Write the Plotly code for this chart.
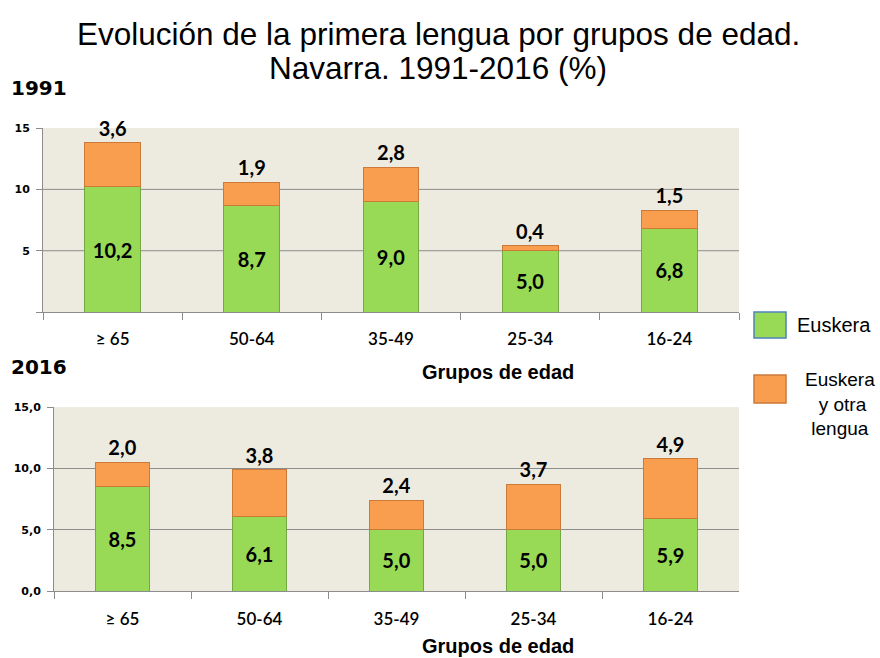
import plotly.graph_objects as go

# ---- data ----
categories = ["≥ 65", "50-64", "35-49", "25-34", "16-24"]
euskera_1991 = [10.2, 8.7, 9.0, 5.0, 6.8]
otra_1991 = [3.6, 1.9, 2.8, 0.4, 1.5]
euskera_2016 = [8.5, 6.1, 5.0, 5.0, 5.9]
otra_2016 = [2.0, 3.8, 2.4, 3.7, 4.9]
y_ticks = [0, 5, 10, 15]
top_grid = [5, 10]

title_lines = ["Evolución de la primera lengua por grupos de edad.",
               "Navarra. 1991-2016 (%)"]
axis_title = "Grupos de edad"
series_names = ["Euskera", "Euskera y otra lengua"]

W, H = 880, 658
def px(x):
    return x / W
def py(y):
    # vertical calibration measured from the rendered page
    return 1 - ((y - 6) / 0.98) / H

GREEN = "#98D955"
GREEN_LINE = "#74A842"
ORANGE = "#F99D4E"
ORANGE_LINE = "#CC7A3A"
BG = "#EDEAE0"
GRID = "#8C8C8C"

def fmt(v):
    return f"{v:.1f}".replace(".", ",")

label_font = dict(family="Lato", size=20, color="black", weight="bold")

fig = go.Figure()
for (eus, otra, xa, ya) in [(euskera_1991, otra_1991, "x", "y"),
                            (euskera_2016, otra_2016, "x2", "y2")]:
    fig.add_trace(go.Bar(
        x=categories, y=eus, name=series_names[0], xaxis=xa, yaxis=ya,
        marker=dict(color=GREEN, line=dict(color=GREEN_LINE, width=1)),
        width=0.4, text=[fmt(v) for v in eus], textposition="inside",
        insidetextanchor="middle", textfont=label_font, showlegend=False,
        textangle=0,
    ))
    fig.add_trace(go.Bar(
        x=categories, y=otra, name=series_names[1], xaxis=xa, yaxis=ya,
        marker=dict(color=ORANGE, line=dict(color=ORANGE_LINE, width=1)),
        width=0.4, text=[fmt(v) for v in otra], textposition="outside",
        textfont=label_font, showlegend=False, cliponaxis=False, textangle=0,
    ))

xcommon = dict(
    type="category", showline=True, linecolor=GRID, linewidth=1,
    ticks="outside", tickson="boundaries", ticklen=7, tickcolor=GRID,
    tickfont=dict(family="Lato", size=17, color="black", weight=600),
    ticklabelstandoff=12, showgrid=False, fixedrange=True,
)
ycommon = dict(
    range=[0, 15], showline=True, linecolor=GRID, linewidth=1,
    ticks="outside", ticklen=6, tickcolor=GRID,
    gridcolor=GRID, gridwidth=1, zeroline=False,
    tickfont=dict(family="DejaVu Sans", size=11, color="black", weight="bold"),
    tickvals=y_ticks, fixedrange=True, ticklabelstandoff=4,
)

fig.update_layout(
    width=W, height=H, margin=dict(l=0, r=0, t=0, b=0),
    paper_bgcolor="white", plot_bgcolor=BG,
    barmode="stack", separators=",.",
    showlegend=False,
    xaxis=dict(domain=[px(43), px(739)], anchor="y", **xcommon),
    yaxis=dict(domain=[py(312), py(128)], anchor="x", showgrid=False,
               ticktext=["", "5", "10", "15"], **ycommon),
    xaxis2=dict(domain=[px(54), px(739)], anchor="y2", **xcommon),
    yaxis2=dict(domain=[py(591), py(407)], anchor="x2", showgrid=True,
                ticktext=["0,0", "5,0", "10,0", "15,0"], **ycommon),
)

for g in top_grid:
    fig.add_shape(type="line", xref="x domain", yref="y", x0=0, x1=1, y0=g, y1=g,
                  line=dict(color=GRID, width=1), layer="below")

for line, yc in zip(title_lines, [34, 68]):
    fig.add_annotation(text=line, xref="paper", yref="paper",
                       x=px(438), y=py(yc), xanchor="center", yanchor="middle",
                       showarrow=False,
                       font=dict(family="Liberation Sans", size=31.5, color="black"))

for txt, yc in [("1991", 88), ("2016", 367)]:
    fig.add_annotation(text=f"<b>{txt}</b>", xref="paper", yref="paper",
                       x=px(9), y=py(yc), xanchor="left", yanchor="middle",
                       showarrow=False,
                       font=dict(family="DejaVu Sans", size=20, color="black"))

for yc in [372, 646]:
    fig.add_annotation(text=f"<b>{axis_title}</b>", xref="paper", yref="paper",
                       x=px(498), y=py(yc), xanchor="center", yanchor="middle",
                       showarrow=False,
                       font=dict(family="Liberation Sans", size=20, color="black"))

fig.add_shape(type="rect", xref="paper", yref="paper",
              x0=px(754), x1=px(786), y0=py(338), y1=py(312),
              fillcolor=GREEN, line=dict(color="#4F81BD", width=1.5))
fig.add_shape(type="rect", xref="paper", yref="paper",
              x0=px(754), x1=px(786), y0=py(403), y1=py(375),
              fillcolor=ORANGE, line=dict(color=ORANGE_LINE, width=1.5))
fig.add_annotation(text=series_names[0], xref="paper", yref="paper",
                   x=px(795), y=py(325), xanchor="left", yanchor="middle",
                   showarrow=False,
                   font=dict(family="Liberation Sans", size=20, color="black"))
fig.add_annotation(text="Euskera<br> y otra<br>lengua", xref="paper", yref="paper",
                   x=px(840), y=py(404), xanchor="center", yanchor="middle",
                   showarrow=False, align="center",
                   font=dict(family="Liberation Sans", size=19, color="black"))

fig.write_html("out.html", config={"displayModeBar": False},
               post_script="document.body.style.margin='0';document.body.style.overflow='hidden';")
